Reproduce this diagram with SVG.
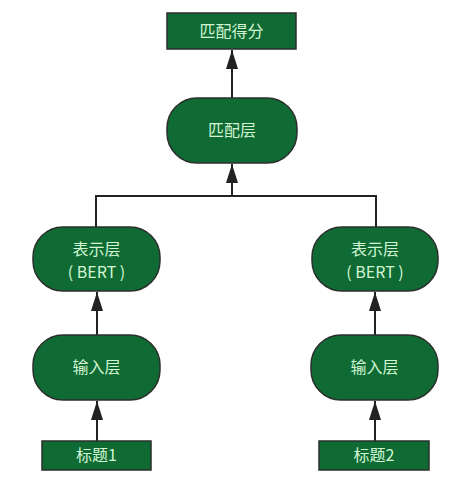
<svg xmlns="http://www.w3.org/2000/svg" width="473" height="477" viewBox="0 0 473 477">
<defs>
<marker id="ah" markerUnits="userSpaceOnUse" markerWidth="20" markerHeight="14" refX="19" refY="6" orient="auto">
<path d="M0,0 L19,6 L0,12 z" fill="#222"/>
</marker>
<style>
.box{fill:#0f6a34;stroke:#2b2f2b;stroke-width:1.5}
.t{font-family:"Noto Sans CJK SC","Noto Sans",sans-serif;font-size:16px;fill:#d2f5d2;text-anchor:middle}
.c{fill:none;stroke:#222;stroke-width:2}
</style>
</defs>
<rect width="473" height="477" fill="#fff"/>
<g id="connectors">
<path class="c" d="M232,98 V50" marker-end="url(#ah)"/>
<path class="c" d="M96,227 V196 H376 V227"/>
<path class="c" d="M232,196 V164" marker-end="url(#ah)"/>
<path class="c" d="M97,335 V292" marker-end="url(#ah)"/>
<path class="c" d="M375,335 V292" marker-end="url(#ah)"/>
<path class="c" d="M97,441 V401" marker-end="url(#ah)"/>
<path class="c" d="M375,441 V401" marker-end="url(#ah)"/>
</g>
<g id="score">
<rect class="box" x="167" y="13" width="129" height="36"/>
<text class="t" x="231.5" y="37">匹配得分</text>
</g>
<g id="match">
<rect class="box" x="167" y="98" width="130" height="65" rx="30"/>
<text class="t" x="232" y="136">匹配层</text>
</g>
<g id="repr1">
<rect class="box" x="33" y="227" width="127" height="64" rx="30"/>
<text class="t" x="96.5" y="255">表示层</text>
<text class="t" x="96.5" y="278">( BERT )</text>
</g>
<g id="repr2">
<rect class="box" x="312" y="227" width="126" height="64" rx="30"/>
<text class="t" x="375" y="255">表示层</text>
<text class="t" x="375" y="278">( BERT )</text>
</g>
<g id="input1">
<rect class="box" x="33" y="335" width="127" height="65" rx="30"/>
<text class="t" x="96.5" y="373">输入层</text>
</g>
<g id="input2">
<rect class="box" x="311" y="335" width="127" height="65" rx="30"/>
<text class="t" x="374.5" y="373">输入层</text>
</g>
<g id="title1">
<rect class="box" x="42" y="441" width="109" height="29"/>
<text class="t" x="96.5" y="461">标题1</text>
</g>
<g id="title2">
<rect class="box" x="319" y="441" width="110" height="29"/>
<text class="t" x="374" y="461">标题2</text>
</g>
</svg>
